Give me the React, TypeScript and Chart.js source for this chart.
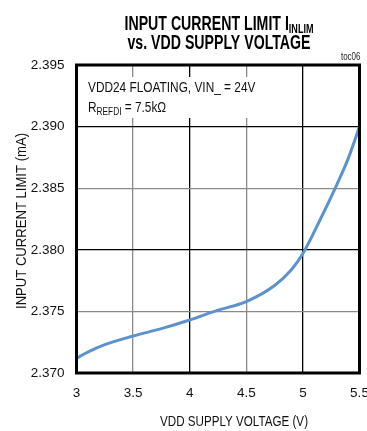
import React, { useEffect, useRef } from "react";
import { Chart, registerables } from "chart.js";

Chart.register(...registerables);

// Supply voltage (V) and measured input current limit (mA)
const vddVolts = [3.0, 3.1, 3.25, 3.5, 3.75, 4.0, 4.25, 4.5, 4.75, 4.9, 5.0, 5.15, 5.3, 5.4, 5.5];
const currentMilliAmps = [
  2.3712, 2.3717, 2.3723, 2.373, 2.3736, 2.3743, 2.3751, 2.3758, 2.3771, 2.3784, 2.3797, 2.3824,
  2.3853, 2.3874, 2.39,
];

const xTicks = [3, 3.5, 4, 4.5, 5, 5.5];
const yTicks = [2.37, 2.375, 2.38, 2.385, 2.39, 2.395];

const titleLine1 = "INPUT CURRENT LIMIT I";
const titleSub = "INLIM";
const titleLine2 = "vs. VDD SUPPLY VOLTAGE";
const xTitle = "VDD SUPPLY VOLTAGE (V)";
const yTitle = "INPUT CURRENT LIMIT (mA)";
const noteLine1 = "VDD24 FLOATING, VIN_ = 24V";
const noteR = "R";
const noteRSub = "REFDI";
const noteRRest = " = 7.5kΩ";
const figTag = "toc06";

const FONT = "'Liberation Sans', Arial, sans-serif";
// horizontal squeeze giving the narrow lettering
const NARROW = 0.8;

const W = 367;
const H = 431;

type Run = { text: string; size: number; bold?: boolean; dy?: number };

// draws a sequence of text runs, horizontally condensed, starting at x (left)
function drawRuns(ctx: CanvasRenderingContext2D, runs: Run[], x: number, y: number, sx: number) {
  ctx.save();
  ctx.translate(x, y);
  ctx.scale(sx, 1);
  let cur = 0;
  for (const r of runs) {
    ctx.font = `${r.bold ? "bold " : ""}${r.size}px ${FONT}`;
    ctx.fillText(r.text, cur, r.dy || 0);
    cur += ctx.measureText(r.text).width;
  }
  ctx.restore();
}

function runsWidth(ctx: CanvasRenderingContext2D, runs: Run[]) {
  let w = 0;
  ctx.save();
  for (const r of runs) {
    ctx.font = `${r.bold ? "bold " : ""}${r.size}px ${FONT}`;
    w += ctx.measureText(r.text).width;
  }
  ctx.restore();
  return w;
}

const decorPlugin = {
  id: "decor",
  beforeDatasetsDraw(chart: any) {
    const { ctx, chartArea } = chart;
    const left = chartArea.left;
    ctx.save();
    // note box over the grid
    ctx.fillStyle = "#ffffff";
    ctx.fillRect(left + 5, 77, 182, 41);
    ctx.fillStyle = "#111";
    ctx.textBaseline = "alphabetic";
    ctx.textAlign = "left";
    const tx = left + 11.5;
    drawRuns(ctx, [{ text: noteLine1, size: 15 }], tx, 92, 0.79);
    drawRuns(
      ctx,
      [
        { text: noteR, size: 15 },
        { text: noteRSub, size: 10.5, dy: 3 },
        { text: noteRRest, size: 15 },
      ],
      tx,
      112,
      0.79
    );
    ctx.restore();
  },
  afterDraw(chart: any) {
    const { ctx, chartArea } = chart;
    const { left, right, top, bottom } = chartArea;
    ctx.save();
    // plot frame
    ctx.strokeStyle = "#000";
    ctx.lineWidth = 3;
    ctx.strokeRect(left, top, right - left, bottom - top);

    ctx.fillStyle = "#000";
    ctx.textBaseline = "alphabetic";
    ctx.textAlign = "left";

    // title
    const cx = 219;
    const line1: Run[] = [
      { text: titleLine1, size: 19.5, bold: true },
      { text: titleSub, size: 12.5, bold: true, dy: 3 },
    ];
    const line2: Run[] = [{ text: titleLine2, size: 19.5, bold: true }];
    const s2 = 183 / runsWidth(ctx, line2);
    const w1 = runsWidth(ctx, line1) * s2;
    drawRuns(ctx, line1, cx - w1 / 2, 30, s2);
    drawRuns(ctx, line2, cx - 183 / 2, 48.5, s2);

    // axis titles
    ctx.fillStyle = "#111";
    const xt: Run[] = [{ text: xTitle, size: 15.5 }];
    const sxT = 148 / runsWidth(ctx, xt);
    drawRuns(ctx, xt, 160, 426, sxT);

    const yt: Run[] = [{ text: yTitle, size: 15.5 }];
    const syT = 176 / runsWidth(ctx, yt);
    ctx.save();
    ctx.translate(26, 309);
    ctx.rotate(-Math.PI / 2);
    drawRuns(ctx, yt, 0, 0, syT);
    ctx.restore();

    // figure tag
    ctx.fillStyle = "#222";
    const tag: Run[] = [{ text: figTag, size: 10 }];
    const tw = runsWidth(ctx, tag) * NARROW;
    drawRuns(ctx, tag, right + 1 - tw, 60, NARROW);
    ctx.restore();
  },
};

const gridColor = (isGray: boolean) => (isGray ? "#8a8a8a" : "#000000");

export default function App() {
  const canvasRef = useRef<HTMLCanvasElement | null>(null);

  useEffect(() => {
    const canvas = canvasRef.current;
    if (!canvas) return;
    const chart = new Chart(canvas, {
      type: "line",
      data: {
        datasets: [
          {
            data: vddVolts.map((v, i) => ({ x: v, y: currentMilliAmps[i] })),
            borderColor: "#5b93cf",
            borderWidth: 3,
            pointRadius: 0,
            cubicInterpolationMode: "monotone",
            fill: false,
          },
        ],
      },
      options: {
        responsive: false,
        animation: false,
        devicePixelRatio: 1,
        layout: { padding: { left: 0, right: 7.5, top: 65, bottom: 0 } },
        plugins: {
          legend: { display: false },
          tooltip: { enabled: false },
          title: { display: false },
        },
        scales: {
          x: {
            type: "linear",
            min: 3,
            max: 5.5,
            afterBuildTicks: (scale: any) => {
              scale.ticks = xTicks.map((v) => ({ value: v }));
            },
            afterFit: (scale: any) => {
              scale.height = 58;
              scale.paddingLeft = 0;
              scale.paddingRight = 0;
            },
            border: { display: false },
            grid: {
              drawTicks: false,
              lineWidth: 1.3,
              color: (c: any) => gridColor(c.tick && Math.round(c.tick.value * 2) % 2 === 1),
            },
            ticks: {
              padding: 12,
              color: "#111",
              font: { family: FONT, size: 13.5 },
              callback: (v: any) => String(v),
              maxRotation: 0,
            },
            title: { display: false },
          },
          y: {
            type: "linear",
            min: 2.37,
            max: 2.395,
            afterBuildTicks: (scale: any) => {
              scale.ticks = yTicks.map((v) => ({ value: v }));
            },
            afterFit: (scale: any) => {
              scale.width = 76.5;
            },
            border: { display: false },
            grid: {
              drawTicks: false,
              lineWidth: 1.3,
              color: (c: any) =>
                gridColor(c.tick && Math.round(c.tick.value * 1000) % 10 === 5),
            },
            ticks: {
              padding: 12,
              color: "#111",
              font: { family: FONT, size: 13.5 },
              callback: (v: any) => Number(v).toFixed(3),
            },
            title: { display: false },
          },
        },
      },
      plugins: [decorPlugin],
    } as any);
    return () => chart.destroy();
  }, []);

  return (
    <div style={{ position: "fixed", left: 0, top: 0, width: W, height: H, background: "#fff" }}>
      <canvas ref={canvasRef} width={W} height={H} style={{ display: "block", width: W, height: H }} />
    </div>
  );
}
